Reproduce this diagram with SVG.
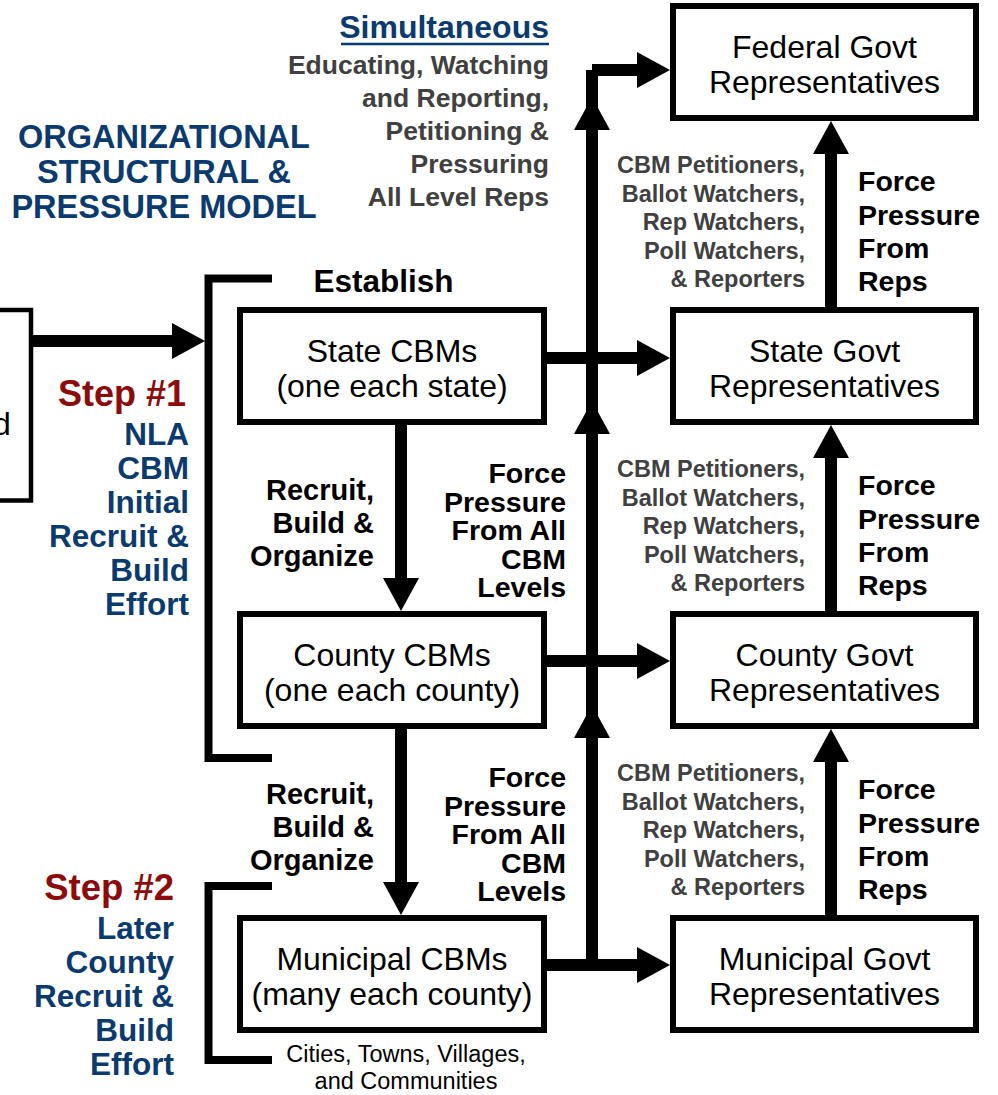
<svg xmlns="http://www.w3.org/2000/svg" width="998" height="1095" viewBox="0 0 998 1095">
<style>
.box{fill:#fff;stroke:#000;stroke-width:6}
.nt{font-family:"Liberation Sans",Arial,sans-serif;font-size:32px;fill:#000;text-anchor:middle}
.ln{fill:none;stroke:#000;stroke-width:12}
.br{fill:none;stroke:#000;stroke-width:8;stroke-linejoin:miter}
.b{font-family:"Liberation Sans",Arial,sans-serif;font-weight:bold}
.navy{fill:#0b3a6e}
.red{fill:#8c0b0b}
.gray{fill:#404040}
.blk{fill:#000}
.end{text-anchor:end}
.mid{text-anchor:middle}
</style>
<defs>
<path id="ah" d="M0,0 L-33,-18 L-33,18 Z" fill="#000"/>
</defs>

<g id="title">
<text class="b navy mid" font-size="32.5" x="164"><tspan x="164" y="148">ORGANIZATIONAL</tspan><tspan x="164" y="183">STRUCTURAL &amp;</tspan><tspan x="164" y="218">PRESSURE MODEL</tspan></text>
</g>

<g id="simultaneous">
<text class="b navy end" font-size="32" x="549" y="38">Simultaneous</text>
<line x1="341" y1="44" x2="549" y2="44" stroke="#0b3a6e" stroke-width="2.5"/>
<text class="b gray end" font-size="26.5"><tspan x="549" y="74">Educating, Watching</tspan><tspan x="549" y="107">and Reporting,</tspan><tspan x="549" y="140">Petitioning &amp;</tspan><tspan x="549" y="173">Pressuring</tspan><tspan x="549" y="206">All Level Reps</tspan></text>
</g>

<g id="connectors">
<path class="br" d="M272,278.5 H208.5 V758 H272"/>
<path class="br" d="M272,886 H208.5 V1060 H272"/>
<path class="ln" d="M33,341 H175"/>
<path class="ln" d="M547,358 H640"/>
<path class="ln" d="M547,661 H640"/>
<path class="ln" d="M547,965 H640"/>
<path class="ln" d="M592,965 V70"/>
<path class="ln" d="M592,70 H640"/>
<path class="ln" d="M831,307 V150"/>
<path class="ln" d="M831,611 V454"/>
<path class="ln" d="M831,915 V758"/>
<path class="ln" d="M401,425 V582"/>
<path class="ln" d="M401,729 V886"/>
<use href="#ah" transform="translate(205,341)"/>
<use href="#ah" transform="translate(670,70)"/>
<use href="#ah" transform="translate(670,358)"/>
<use href="#ah" transform="translate(670,661)"/>
<use href="#ah" transform="translate(670,965)"/>
<use href="#ah" transform="translate(592,97) rotate(-90)"/>
<use href="#ah" transform="translate(592,401) rotate(-90)"/>
<use href="#ah" transform="translate(592,705) rotate(-90)"/>
<use href="#ah" transform="translate(831,121) rotate(-90)"/>
<use href="#ah" transform="translate(831,425) rotate(-90)"/>
<use href="#ah" transform="translate(831,729) rotate(-90)"/>
<use href="#ah" transform="translate(401,611) rotate(90)"/>
<use href="#ah" transform="translate(401,915) rotate(90)"/>
</g>

<g id="left-node">
<rect x="-20" y="310" width="51" height="190.5" fill="#fff" stroke="#000" stroke-width="4.5"/>
<text class="nt" style="text-anchor:start" x="-7" y="435">d</text>
</g>

<g id="state-cbms">
<rect class="box" x="240" y="310" width="304" height="112"/>
<text class="nt"><tspan x="392" y="362">State CBMs</tspan><tspan x="392" y="397">(one each state)</tspan></text>
</g>
<g id="county-cbms">
<rect class="box" x="240" y="614" width="304" height="112"/>
<text class="nt"><tspan x="392" y="666">County CBMs</tspan><tspan x="392" y="701">(one each county)</tspan></text>
</g>
<g id="municipal-cbms">
<rect class="box" x="240" y="918" width="304" height="112"/>
<text class="nt"><tspan x="392" y="970">Municipal CBMs</tspan><tspan x="392" y="1005">(many each county)</tspan></text>
</g>
<g id="federal-govt">
<rect class="box" x="673" y="6" width="303" height="112"/>
<text class="nt"><tspan x="824.5" y="58">Federal Govt</tspan><tspan x="824.5" y="93">Representatives</tspan></text>
</g>
<g id="state-govt">
<rect class="box" x="673" y="310" width="303" height="112"/>
<text class="nt"><tspan x="824.5" y="362">State Govt</tspan><tspan x="824.5" y="397">Representatives</tspan></text>
</g>
<g id="county-govt">
<rect class="box" x="673" y="614" width="303" height="112"/>
<text class="nt"><tspan x="824.5" y="666">County Govt</tspan><tspan x="824.5" y="701">Representatives</tspan></text>
</g>
<g id="municipal-govt">
<rect class="box" x="673" y="918" width="303" height="112"/>
<text class="nt"><tspan x="824.5" y="970">Municipal Govt</tspan><tspan x="824.5" y="1005">Representatives</tspan></text>
</g>

<g id="labels">
<text class="b blk mid" font-size="31.5" x="383.5" y="292">Establish</text>
<text class="b red end" font-size="36" x="186" y="406">Step #1</text>
<text class="b navy end" font-size="31.5"><tspan x="189" y="445">NLA</tspan><tspan x="189" y="479">CBM</tspan><tspan x="189" y="513">Initial</tspan><tspan x="189" y="547">Recruit &amp;</tspan><tspan x="189" y="581">Build</tspan><tspan x="189" y="615">Effort</tspan></text>
<text class="b red end" font-size="36.5" x="174" y="900">Step #2</text>
<text class="b navy end" font-size="31.5"><tspan x="174" y="939">Later</tspan><tspan x="174" y="973">County</tspan><tspan x="174" y="1007">Recruit &amp;</tspan><tspan x="174" y="1041">Build</tspan><tspan x="174" y="1075">Effort</tspan></text>
<text class="b blk end" font-size="29"><tspan x="374" y="500">Recruit,</tspan><tspan x="374" y="533">Build &amp;</tspan><tspan x="374" y="566">Organize</tspan></text>
<text class="b blk end" font-size="29"><tspan x="374" y="804">Recruit,</tspan><tspan x="374" y="837">Build &amp;</tspan><tspan x="374" y="870">Organize</tspan></text>
<text class="b blk end" font-size="28.5"><tspan x="566" y="483">Force</tspan><tspan x="566" y="511.5">Pressure</tspan><tspan x="566" y="540">From All</tspan><tspan x="566" y="568.5">CBM</tspan><tspan x="566" y="597">Levels</tspan></text>
<text class="b blk end" font-size="28.5"><tspan x="566" y="787">Force</tspan><tspan x="566" y="815.5">Pressure</tspan><tspan x="566" y="844">From All</tspan><tspan x="566" y="872.5">CBM</tspan><tspan x="566" y="901">Levels</tspan></text>
<text class="b gray end" font-size="23.5"><tspan x="805" y="173">CBM Petitioners,</tspan><tspan x="805" y="201.5">Ballot Watchers,</tspan><tspan x="805" y="230">Rep Watchers,</tspan><tspan x="805" y="258.5">Poll Watchers,</tspan><tspan x="805" y="287">&amp; Reporters</tspan></text>
<text class="b gray end" font-size="23.5"><tspan x="805" y="477">CBM Petitioners,</tspan><tspan x="805" y="505.5">Ballot Watchers,</tspan><tspan x="805" y="534">Rep Watchers,</tspan><tspan x="805" y="562.5">Poll Watchers,</tspan><tspan x="805" y="591">&amp; Reporters</tspan></text>
<text class="b gray end" font-size="23.5"><tspan x="805" y="781">CBM Petitioners,</tspan><tspan x="805" y="809.5">Ballot Watchers,</tspan><tspan x="805" y="838">Rep Watchers,</tspan><tspan x="805" y="866.5">Poll Watchers,</tspan><tspan x="805" y="895">&amp; Reporters</tspan></text>
<text class="b blk" font-size="28.5"><tspan x="858" y="191">Force</tspan><tspan x="858" y="225">Pressure</tspan><tspan x="858" y="258">From</tspan><tspan x="858" y="291">Reps</tspan></text>
<text class="b blk" font-size="28.5"><tspan x="858" y="495">Force</tspan><tspan x="858" y="529">Pressure</tspan><tspan x="858" y="562">From</tspan><tspan x="858" y="595">Reps</tspan></text>
<text class="b blk" font-size="28.5"><tspan x="858" y="799">Force</tspan><tspan x="858" y="833">Pressure</tspan><tspan x="858" y="866">From</tspan><tspan x="858" y="899">Reps</tspan></text>
<text font-family="Liberation Sans, Arial, sans-serif" font-size="23.5" fill="#000" text-anchor="middle"><tspan x="406" y="1062">Cities, Towns, Villages,</tspan><tspan x="406" y="1089">and Communities</tspan></text>
</g>
</svg>
